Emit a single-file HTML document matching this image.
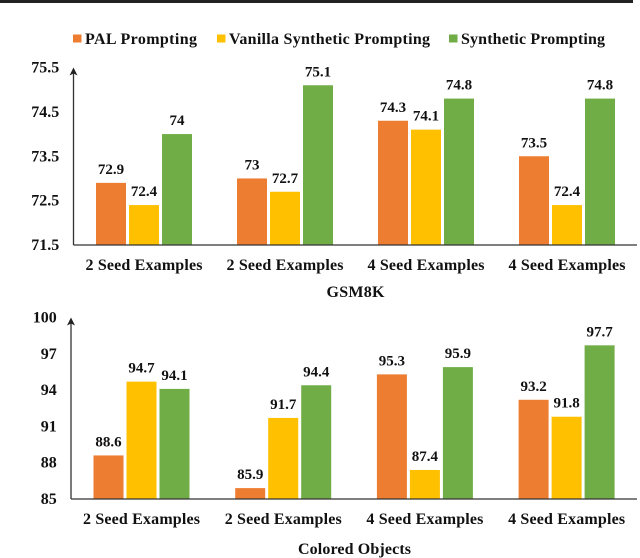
<!DOCTYPE html>
<html>
<head>
<meta charset="utf-8">
<style>
html,body{margin:0;padding:0;background:#fff;width:640px;height:558px;overflow:hidden}
svg{display:block;font-family:"Liberation Serif",serif;font-weight:bold;fill:#111;filter:blur(0.35px)}
</style>
</head>
<body>
<svg id="chart" xmlns="http://www.w3.org/2000/svg" width="640" height="558" viewBox="0 0 640 558">
  <rect x="0" y="0" width="633" height="3" fill="#222"/>
  <g>
    <rect x="73" y="34.5" width="8.5" height="8" fill="#ED7D31"/>
    <text x="85" y="44" font-size="16" textLength="112" lengthAdjust="spacing">PAL Prompting</text>
    <rect x="217" y="34.5" width="8.5" height="8" fill="#FFC000"/>
    <text x="229" y="44" font-size="16" textLength="201" lengthAdjust="spacing">Vanilla Synthetic Prompting</text>
    <rect x="449" y="34.5" width="8.5" height="8" fill="#70AD47"/>
    <text x="461" y="44" font-size="16" textLength="144" lengthAdjust="spacing">Synthetic Prompting</text>
  </g>
  <text x="355.5" y="297" font-size="16" text-anchor="middle" textLength="58" lengthAdjust="spacing">GSM8K</text>
  <text x="354.5" y="554" font-size="16" text-anchor="middle" textLength="113" lengthAdjust="spacing">Colored Objects</text>
  <g id="plots"></g>
</svg>
<script>
var categories = ["2 Seed Examples", "2 Seed Examples", "4 Seed Examples", "4 Seed Examples"];
var seriesNames = ["pal", "vanilla", "synthetic"];

var gsmPal = [72.9, 73, 74.3, 73.5];
var gsmVanilla = [72.4, 72.7, 74.1, 72.4];
var gsmSynthetic = [74, 75.1, 74.8, 74.8];
var gsmTicks = [71.5, 72.5, 73.5, 74.5, 75.5];

var coloredPal = [88.6, 85.9, 95.3, 93.2];
var coloredVanilla = [94.7, 91.7, 87.4, 91.8];
var coloredSynthetic = [94.1, 94.4, 95.9, 97.7];
var coloredTicks = [85, 88, 91, 94, 97, 100];

var colors = ["#ED7D31", "#FFC000", "#70AD47"];
var NS = "http://www.w3.org/2000/svg";
var root = document.getElementById("plots");

function make(tag, attrs, parent) {
  var el = document.createElementNS(NS, tag);
  for (var k in attrs) el.setAttribute(k, attrs[k]);
  parent.appendChild(el);
  return el;
}

function drawPlot(cfg) {
  var g = make("g", {}, root);
  
  

  var lo = cfg.ticks[0];
  var hi = cfg.ticks[cfg.ticks.length - 1];
  function y(v) { return cfg.base - (v - lo) / (hi - lo) * (cfg.base - cfg.top); }
  function groupX(i) { return cfg.x0 + i * cfg.step; }

  cfg.series.forEach(function (vals, s) {
    vals.forEach(function (v, i) {
      var bx = groupX(i) + s * 33;
      var bar = make("rect", {x: bx, y: y(v), width: 30, height: cfg.base - y(v), fill: colors[s]}, g);
      
      
      var lab = make("text", {x: bx + 15, y: y(v) - 9, "font-size": 15, "text-anchor": "middle"}, g);
      
      
      lab.textContent = String(v);
    });
  });

  cfg.ticks.forEach(function (t) {
    var tl = make("text", {x: cfg.axisX - 14.3, y: y(t) + 5, "font-size": 16, "text-anchor": "end"}, g);
    
    
    tl.textContent = String(t);
  });

  categories.forEach(function (c, i) {
    var cl = make("text", {x: groupX(i) - 10.5, y: cfg.base + 25, "font-size": 16, textLength: 117, lengthAdjust: "spacing"}, g);
    
    
    cl.textContent = c;
  });

  var xAxis = make("line", {x1: cfg.axisX, x2: 637, y1: cfg.base, y2: cfg.base, stroke: "#333", "stroke-width": 1.3}, g);
  
  

  var yAxis = make("line", {x1: cfg.axisX, x2: cfg.axisX, y1: cfg.base, y2: cfg.top + 3, stroke: "#333", "stroke-width": 1.3}, g);
  
  

  var head = make("path", {d: "M" + cfg.axisX + " " + cfg.top + "l4 8l-4 -2l-4 2z", fill: "#222"}, g);
  
  
}

drawPlot({
  name: "gsm8k-chart", axisX: 73.5, x0: 96, step: 141, base: 245, top: 67.5,
  ticks: gsmTicks, series: [gsmPal, gsmVanilla, gsmSynthetic]
});
drawPlot({
  name: "colored-objects-chart", axisX: 71, x0: 93.5, step: 141.7, base: 499, top: 317.5,
  ticks: coloredTicks, series: [coloredPal, coloredVanilla, coloredSynthetic]
});
</script>
</body>
</html>
